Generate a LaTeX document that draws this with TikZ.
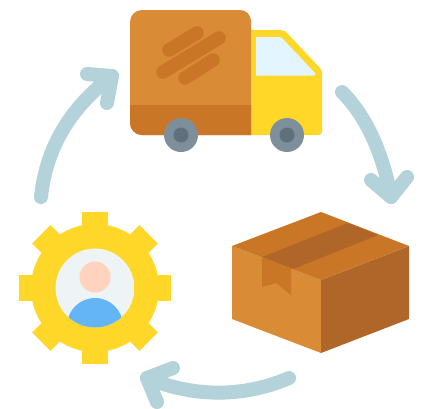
\documentclass[tikz,border=0pt]{standalone}
\definecolor{boxlight}{HTML}{D98B35}
\definecolor{boxmid}{HTML}{C97726}
\definecolor{boxdark}{HTML}{B06629}
\definecolor{sun}{HTML}{FFD729}
\definecolor{glass}{HTML}{E3F6FF}
\definecolor{tyre}{HTML}{7D8F9B}
\definecolor{hub}{HTML}{5F707B}
\definecolor{loopc}{HTML}{B4D2D9}
\definecolor{disc}{HTML}{EEF3F6}
\definecolor{skin}{HTML}{FFD3BD}
\definecolor{shirt}{HTML}{64B5F6}
\tikzset{
  loopline/.style={draw=loopc,line width=14pt,line cap=round,line join=round},
  stripe/.style={draw=boxmid,line width=13.5pt,line cap=round}
}
\begin{document}
\begin{tikzpicture}[x=1pt,y=-1pt]
\useasboundingbox (0,0) rectangle (422,408);
\fill[white] (0,0) rectangle (422,408);
% loop arrows
\draw[loopline] (41,197) .. controls (46,148) and (70,108) .. (112,76);
\draw[loopline] (87,74) -- (112,76) -- (107,103);
\draw[loopline] (342,92) .. controls (365,115) and (382,150) .. (391,197);
\draw[loopline] (371,180) -- (391,197) -- (407,177);
\draw[loopline] (289,378) .. controls (245,397) and (195,398) .. (147,378);
\draw[loopline] (173,368) -- (147,378) -- (157,402);
% truck
\fill[sun] (251,30) -- (280,30) .. controls (283,30) and (285,31) .. (287,33) -- (319,67) .. controls (321,69) and (322,71) .. (322,73) -- (322,131) .. controls (322,134) and (321,135) .. (318,135) -- (251,135) -- cycle;
\fill[glass] (256,37) -- (279,37) .. controls (281,37) and (282,38) .. (283,39) -- (315,73) .. controls (316,74) and (315,75.5) .. (314,75.5) -- (256,75.5) -- cycle;
\fill[boxlight] (251,135) -- (142,135) arc[start angle=90,end angle=180,x radius=12pt,y radius=-12pt] -- (130,22) arc[start angle=180,end angle=270,x radius=12pt,y radius=-12pt] -- (240,10) arc[start angle=270,end angle=360,x radius=11pt,y radius=-11pt] -- cycle;
\fill[boxmid] (251,135) -- (142,135) arc[start angle=90,end angle=180,x radius=12pt,y radius=-12pt] -- (130,105) -- (251,105) -- cycle;
\draw[stripe] (169,50) -- (197,33);
\draw[stripe] (163,72) -- (219,38);
\draw[stripe] (185,78) -- (213,60);
\fill[tyre] (181,135) circle[radius=17pt];
\fill[hub] (181,135) circle[radius=7.5pt];
\fill[tyre] (287,135) circle[radius=17pt];
\fill[hub] (287,135) circle[radius=7.5pt];
% box
\fill[boxlight] (232,246) -- (321,280) -- (321,353) -- (232,319) -- cycle;
\fill[boxdark] (409,246) -- (321,280) -- (321,353) -- (409,319) -- cycle;
\fill[boxmid] (321,212) -- (409,246) -- (321,280) -- (232,246) -- cycle;
\fill[boxdark] (348,223) -- (378,235) -- (293,269) -- (262,257) -- cycle;
\fill[boxmid] (262,257) -- (291,268.5) -- (291,295) -- (276,283) -- (262,287) -- cycle;
% gear
\fill[sun] (95,288) circle[radius=64pt];
\foreach \a in {0,45,...,315}{
  \fill[sun,rotate around={\a:(95,288)}] (82,212) rectangle (108,240);
}
\begin{scope}
\clip (95,288) circle[radius=39.5pt];
\fill[disc] (95,288) circle[radius=39.5pt];
\fill[shirt] (95,326) circle[radius=28pt];
\end{scope}
\fill[skin] (95,277) circle[radius=15.5pt];
\end{tikzpicture}
\end{document}
